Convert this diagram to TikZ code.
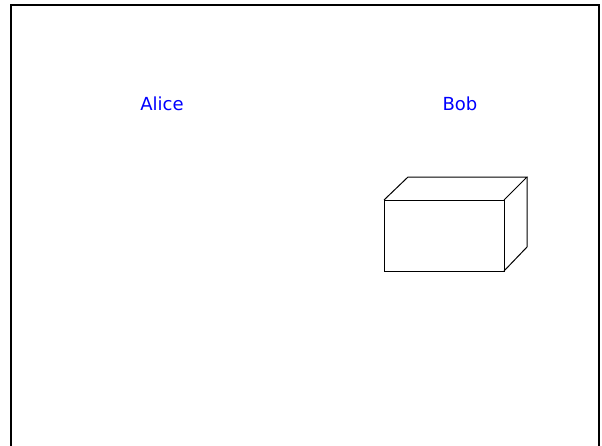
\documentclass[tikz,border=0pt]{standalone}
\usepackage{fontspec}
\setmainfont{DejaVu Sans}
\tikzset{
  personlabel/.style={text=blue, font=\fontsize{18}{20}\selectfont}
}
\begin{document}
\begin{tikzpicture}[x=1pt,y=-1pt]
\useasboundingbox (0,0) rectangle (602,445);
% frame, open at the bottom
\draw[line width=2.6pt] (11,447) -- (11,5) -- (599,5) -- (599,447);

\node[personlabel] (alice) at (162,104) {Alice};
\node[personlabel] (bob) at (460,104) {Bob};

% box
\draw[line width=1pt] (384,200) rectangle (504,271);
\draw[line width=1pt] (384,200) -- (408,177) -- (527,177) -- (504,200);
\draw[line width=1pt] (527,177) -- (527,247) -- (504,271);
\end{tikzpicture}
\end{document}
